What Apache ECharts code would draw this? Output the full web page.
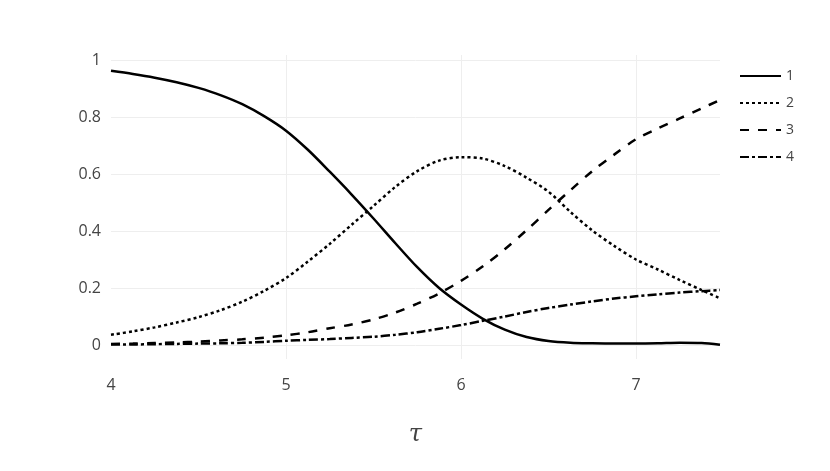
<!DOCTYPE html>
<html>
<head>
<meta charset="utf-8">
<script src="https://cdn.jsdelivr.net/npm/echarts@6/dist/echarts.min.js"></script>
<style>html,body{margin:0;padding:0;background:#fff}#c{width:830px;height:471px}</style>
</head>
<body>
<div id="c"></div>
<script>
const tau = [4.0, 4.125, 4.25, 4.375, 4.5, 4.625, 4.75, 4.875, 5.0, 5.125, 5.25, 5.375, 5.5, 5.625, 5.75,
             5.875, 6.0, 6.125, 6.25, 6.375, 6.5, 6.625, 6.75, 6.875, 7.0, 7.125, 7.25, 7.375, 7.48];
const s1 = [0.962, 0.951, 0.938, 0.922, 0.902, 0.877, 0.845, 0.803, 0.752, 0.685, 0.608, 0.528, 0.444, 0.357, 0.273,
            0.200, 0.142, 0.092, 0.054, 0.028, 0.014, 0.008, 0.006, 0.005, 0.005, 0.006, 0.008, 0.007, 0.001];
const s2 = [0.036, 0.048, 0.062, 0.079, 0.098, 0.122, 0.152, 0.190, 0.235, 0.293, 0.355, 0.422, 0.488, 0.555, 0.610,
            0.647, 0.659, 0.654, 0.628, 0.587, 0.538, 0.467, 0.402, 0.348, 0.300, 0.265, 0.228, 0.193, 0.164];
const s3 = [0.004, 0.005, 0.007, 0.009, 0.012, 0.016, 0.020, 0.026, 0.034, 0.045, 0.059, 0.072, 0.090, 0.114, 0.145,
            0.181, 0.225, 0.276, 0.336, 0.403, 0.474, 0.543, 0.610, 0.668, 0.722, 0.760, 0.795, 0.830, 0.860];
const s4 = [0.002, 0.002, 0.003, 0.004, 0.005, 0.006, 0.008, 0.011, 0.015, 0.018, 0.021, 0.025, 0.029, 0.036, 0.045,
            0.057, 0.070, 0.085, 0.100, 0.116, 0.130, 0.142, 0.153, 0.163, 0.171, 0.178, 0.184, 0.189, 0.193];
const names = ['1', '2', '3', '4'];
const xTicks = [4, 5, 6, 7];
const yTicks = [0, 0.2, 0.4, 0.6, 0.8, 1];

const allSeries = [s1, s2, s3, s4];
const dashes = ['solid', [3, 3], [9, 9], [9, 3, 3, 3]];

const chart = echarts.init(document.getElementById('c'), null, {renderer: 'canvas'});
chart.setOption({
  animation: false,
  backgroundColor: '#fff',
  textStyle: {fontFamily: 'Open Sans'},
  grid: {left: 111, right: 110, top: 55, bottom: 112, containLabel: false},
  legend: {
    orient: 'vertical', left: 734, top: 64,
    itemWidth: 41, itemHeight: 14, itemGap: 13,
    itemStyle: {opacity: 0},
    textStyle: {fontSize: 14, color: '#444', fontFamily: 'Open Sans'},
    data: names
  },
  xAxis: {
    type: 'value', min: 4, max: 7.48, interval: 1,
    axisLine: {show: false}, axisTick: {show: false},
    splitLine: {show: true, showMinLine: false, showMaxLine: false, lineStyle: {color: '#eee', width: 1}},
    axisLabel: {
      fontSize: 16, color: '#444', margin: 18, showMaxLabel: false,
      formatter: v => xTicks.includes(v) ? String(v) : ''
    },
    name: 'τ', nameLocation: 'middle', nameGap: 64,
    nameTextStyle: {fontSize: 24, color: '#444', fontFamily: 'DejaVu Serif', fontStyle: 'italic'}
  },
  yAxis: {
    type: 'value', min: -0.049, max: 1.0175, splitNumber: 5,
    axisLine: {show: false}, axisTick: {show: false},
    splitLine: {show: true, showMinLine: false, showMaxLine: false, lineStyle: {color: '#eee', width: 1}},
    axisLabel: {
      fontSize: 16, color: '#444', margin: 10, showMinLabel: false, showMaxLabel: false,
      formatter: v => {
        const r = Math.round(v * 10) / 10;
        return yTicks.some(t => Math.abs(t - v) < 1e-6) ? String(r) : '';
      }
    }
  },
  series: allSeries.map((arr, i) => ({
    name: names[i], type: 'line', symbol: 'none', smooth: 0.3,
    data: tau.map((x, j) => [x, arr[j]]),
    lineStyle: {color: '#000', width: 2.5, type: dashes[i], cap: 'butt'},
    itemStyle: {color: '#000'}
  }))
});
</script>
</body>
</html>
